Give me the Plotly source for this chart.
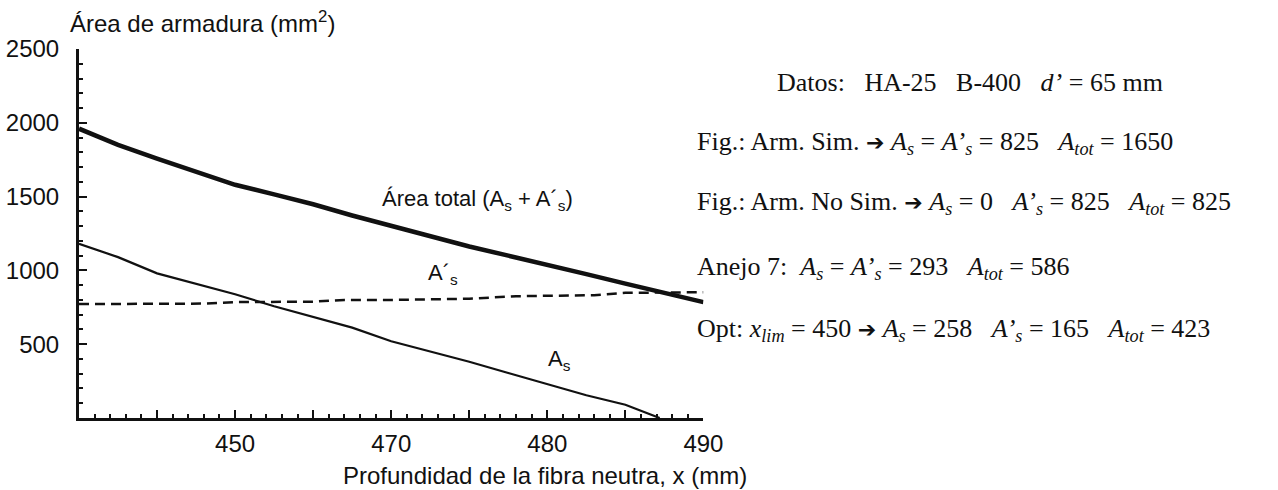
import plotly.graph_objects as go

# ---- data ----
x_total = [450, 452.5, 455, 457.5, 460, 462.5, 465, 467.5, 470, 472.5, 475, 477.5, 480, 482.5, 485, 487.5, 490]
y_total = [1960, 1850, 1758, 1665, 1580, 1515, 1448, 1372, 1300, 1228, 1162, 1100, 1040, 975, 910, 845, 785]

x_as = [450, 452.5, 455, 457.5, 460, 462.5, 465, 467.5, 470, 472.5, 475, 477.5, 480, 482.5, 485, 487.2]
y_as = [1180, 1090, 980, 910, 838, 757, 682, 612, 520, 450, 381, 305, 227, 154, 90, 0]

x_asp = [450, 455, 458, 460, 465, 467, 470, 475, 478, 480, 483, 485, 490]
y_asp = [772, 772, 775, 785, 788, 800, 800, 808, 825, 828, 832, 848, 852]

x_tick_vals = [455, 460, 465, 470, 475, 480, 485, 490]
x_tick_text = ["", "450", "", "470", "", "480", "", "490"]
y_tick_vals = [500, 1000, 1500, 2000, 2500]
y_tick_text = ["500", "1000", "1500", "2000", "2500"]

ARR = '<span style="font-family:DejaVu Sans;font-size:22px">➔</span>'
info_lines = [
    "Datos:\u00a0\u00a0 HA-25\u00a0\u00a0 B-400\u00a0\u00a0 <i>d’</i> = 65 mm",
    f"Fig.: Arm. Sim. {ARR} <i>A<sub>s</sub></i> = <i>A’<sub>s</sub></i> = 825\u00a0\u00a0 <i>A<sub>tot</sub></i> = 1650",
    f"Fig.: Arm. No Sim. {ARR} <i>A<sub>s</sub></i> = 0\u00a0\u00a0 <i>A’<sub>s</sub></i> = 825\u00a0\u00a0 <i>A<sub>tot</sub></i> = 825",
    "Anejo 7:\u00a0 <i>A<sub>s</sub></i> = <i>A’<sub>s</sub></i> = 293\u00a0\u00a0 <i>A<sub>tot</sub></i> = 586",
    f"Opt: <i>x<sub>lim</sub></i> = 450 {ARR} <i>A<sub>s</sub></i> = 258\u00a0\u00a0 <i>A’<sub>s</sub></i> = 165\u00a0\u00a0 <i>A<sub>tot</sub></i> = 423",
]

W, H = 1278, 490
ML, MR, MT, MB = 79, 0, 49, 72
PW = W - ML - MR
PH = H - MT - MB


def px(xp):
    return (xp - ML) / PW


def py(yp):
    return (H - MB - yp) / PH


fig = go.Figure()
fig.add_trace(go.Scatter(x=x_total, y=y_total, mode="lines",
                         line=dict(color="#111", width=4.5), showlegend=False))
fig.add_trace(go.Scatter(x=x_as, y=y_as, mode="lines",
                         line=dict(color="#111", width=2.2), showlegend=False))
fig.add_trace(go.Scatter(x=x_asp, y=y_asp, mode="lines",
                         line=dict(color="#111", width=2.5, dash="10px,6px"), showlegend=False))

sans = "Liberation Sans, Arial, sans-serif"
serif = "Liberation Serif, Times New Roman, serif"

fig.update_layout(
    width=W, height=H,
    margin=dict(l=ML, r=MR, t=MT, b=MB),
    paper_bgcolor="white", plot_bgcolor="white",
    xaxis=dict(
        domain=[0, (714 - ML) / PW], range=[450, 490],
        showgrid=False, zeroline=False, showline=True, linecolor="#111", linewidth=3,
        ticks="inside", ticklen=8, tickwidth=2, tickcolor="#111",
        tickmode="array", tickvals=x_tick_vals, ticktext=x_tick_text,
        tickfont=dict(family=sans, size=24, color="#111"), ticklabelstandoff=2,
        minor=dict(tickmode="linear", tick0=450, dtick=1, ticks="inside", ticklen=4,
                   tickwidth=2, tickcolor="#111", showgrid=False),
    ),
    yaxis=dict(
        range=[0, 2500],
        showgrid=False, zeroline=False, showline=True, linecolor="#111", linewidth=3,
        ticks="inside", ticklen=8, tickwidth=2, tickcolor="#111",
        tickmode="array", tickvals=y_tick_vals, ticktext=y_tick_text,
        tickfont=dict(family=sans, size=24, color="#111"), ticklabelstandoff=12,
        minor=dict(tickmode="linear", tick0=0, dtick=100, ticks="inside", ticklen=4,
                   tickwidth=2, tickcolor="#111", showgrid=False),
    ),
)

ann = []
# axis titles
ann.append(dict(text="Área de armadura (mm<sup>2</sup>)", xref="paper", yref="paper",
                x=px(68), y=py(22), xanchor="left", yanchor="middle", showarrow=False,
                font=dict(family=sans, size=24, color="#111")))
ann.append(dict(text="Profundidad de la fibra neutra, x (mm)", xref="paper", yref="paper",
                x=px(553), y=py(490), xanchor="center", yanchor="bottom", showarrow=False,
                borderpad=0, font=dict(family=sans, size=24, color="#111")))
# curve labels
ann.append(dict(text="Área total (A<sub>s</sub> + A´<sub>s</sub>)", x=475.5, y=1480,
                showarrow=False, font=dict(family=sans, size=22, color="#111")))
ann.append(dict(text="A´<sub>s</sub>", x=473.3, y=975,
                showarrow=False, font=dict(family=sans, size=22, color="#111")))
ann.append(dict(text="A<sub>s</sub>", x=480.8, y=390,
                showarrow=False, font=dict(family=sans, size=22, color="#111")))
# info block
info_x = [787, 705, 705, 705, 705]
info_y = [82, 143, 203, 268, 330]
for t, xx, yy in zip(info_lines, info_x, info_y):
    ann.append(dict(text=t, xref="paper", yref="paper", x=px(xx), y=py(yy),
                    xanchor="left", yanchor="middle", showarrow=False,
                    font=dict(family=serif, size=26, color="#111")))
fig.update_layout(annotations=ann)

fig.write_html("out.html", config={"displayModeBar": False},
               post_script="document.body.style.margin='0';document.body.style.overflow='hidden';")
